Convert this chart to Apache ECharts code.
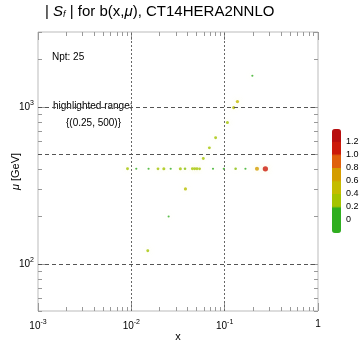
<!DOCTYPE html>
<html>
<head>
<meta charset="utf-8">
<script src="https://cdn.jsdelivr.net/npm/echarts@6/dist/echarts.min.js"></script>
<style>
  html, body { margin: 0; padding: 0; background: #fff; }
  #main { width: 360px; height: 344px; }
</style>
</head>
<body>
<div id="main"></div>
<script>
// points: x, mu [GeV], |Sf|
const xs = [0.198, 0.137, 0.125, 0.107, 0.080, 0.0686, 0.059,
  0.0091, 0.0113, 0.0153, 0.0193, 0.0223, 0.0264, 0.0335, 0.0376, 0.0451, 0.0477,
  0.0505, 0.0539, 0.075, 0.098, 0.131, 0.167, 0.222, 0.273,
  0.038, 0.0251, 0.0150];
const mus = [1578, 1080, 990, 795, 636, 548, 469,
  403, 403, 403, 403, 403, 403, 403, 403, 403, 403,
  403, 403, 403, 403, 403, 403, 403, 403,
  300, 200, 121];
const sf = [0.05, 0.45, 0.4, 0.35, 0.3, 0.3, 0.3,
  0.3, 0.05, 0.05, 0.25, 0.35, 0.05, 0.35, 0.2, 0.3, 0.3,
  0.3, 0.25, 0.05, 0.1, 0.2, 0.05, 0.7, 1.1,
  0.4, 0.05, 0.3];

const xGrid = [0.01, 0.1];
const yGrid = [100, 1000];
const highlightMu = 500;

const xMajor = [0.001, 0.01, 0.1, 1];
const yMajor = [100, 1000];
const xMinor = [];
[0.001, 0.01, 0.1].forEach(d => { for (let k = 2; k <= 9; k++) xMinor.push(k * d); });
const yMinor = [];
[10, 100, 1000].forEach(d => { for (let k = 2; k <= 9; k++) { const v = k * d; if (v >= 50 && v <= 3000) yMinor.push(v); } });

// color bar bands, -0.2 .. 1.4 in steps of 0.2
const bandColors = ['#2fae1f', '#2fae1f', '#a4c400', '#c4bc00', '#d49c00', '#e0600c', '#cc1a0a', '#b80e0e'];
const stepped = [];
bandColors.forEach(c => { for (let i = 0; i < 20; i++) stepped.push(c); });

const data = xs.map((x, i) => [x, mus[i], sf[i]]);

function expLabel(v) {
  const e = Math.round(Math.log10(v));
  if (e === 0) return '1';
  return '{b|10}{s|' + e + '}';
}
const supRich = {
  b: { fontSize: 10, color: '#000', fontFamily: 'Liberation Sans' },
  s: { fontSize: 7, color: '#000', fontFamily: 'Liberation Sans', padding: [0, 0, 7, 0] }
};

const tickAxis = (pos, vals, len, type) => ({
  type: 'log', logBase: 10, gridIndex: 0, position: pos,
  min: type === 'x' ? 0.001 : 50, max: type === 'x' ? 1 : 3000,
  axisLine: { show: false },
  axisLabel: { show: false },
  axisTick: { show: true, inside: true, length: len, customValues: vals, lineStyle: { color: '#999' } },
  splitLine: { show: false }
});

const myChart = echarts.init(document.getElementById('main'));
myChart.setOption({
  animation: false,
  title: {
    text: '| {i|S}{sub|f} | for b(x,{i|μ}), CT14HERA2NNLO',
    left: 45, top: 4, padding: 0,
    textStyle: {
      fontSize: 15, fontWeight: 'normal', color: '#000', fontFamily: 'Liberation Sans',
      rich: {
        i: { fontSize: 15, fontStyle: 'italic', fontFamily: 'Liberation Sans' },
        sub: { fontSize: 9, fontStyle: 'italic', fontFamily: 'Liberation Sans', padding: [6, 0, 0, 0] }
      }
    }
  },
  graphic: [
    { type: 'text', left: 52, top: 52, style: { text: 'Npt: 25', fontSize: 10, fontFamily: 'Liberation Sans', fill: '#000' } },
    { type: 'text', left: 53, top: 101, style: { text: 'highlighted range:', fontSize: 10, fontFamily: 'Liberation Sans', fill: '#000' } },
    { type: 'text', left: 66, top: 118, style: { text: '{(0.25, 500)}', fontSize: 10, fontFamily: 'Liberation Sans', fill: '#000' } }
  ],
  grid: [
    { left: 38, right: 42, top: 32, bottom: 33, show: true, borderColor: '#bbb', borderWidth: 1, outerBoundsMode: 'none', containLabel: false },
    { left: 332, top: 129, width: 9, height: 104, show: false, outerBoundsMode: 'none', containLabel: false }
  ],
  visualMap: {
    type: 'continuous', seriesIndex: 0, dimension: 2,
    min: -0.2, max: 1.4, calculable: false, text: null, showLabel: false,
    left: 332, top: 129, itemWidth: 9, itemHeight: 104, padding: 0,
    inRange: { color: stepped }
  },
  xAxis: [
    {
      type: 'log', logBase: 10, gridIndex: 0, min: 0.001, max: 1, position: 'bottom',
      name: 'x', nameLocation: 'middle', nameGap: 20, nameMoveOverlap: false,
      nameTextStyle: { fontSize: 11, color: '#000', fontFamily: 'Liberation Sans' },
      axisLine: { show: false },
      axisTick: { show: true, inside: true, length: 8, customValues: xMajor, lineStyle: { color: '#999' } },
      axisLabel: { customValues: xMajor, formatter: expLabel, rich: supRich, margin: 8, fontSize: 10, color: '#000' },
      splitLine: { show: false }
    },
    tickAxis('bottom', xMinor, 4, 'x'),
    tickAxis('top', xMajor, 8, 'x'),
    tickAxis('top', xMinor, 4, 'x'),
    { type: 'value', gridIndex: 1, show: false }
  ],
  yAxis: [
    {
      type: 'log', logBase: 10, gridIndex: 0, min: 50, max: 3000, position: 'left',
      name: '{i|μ} [GeV]', nameLocation: 'middle', nameGap: 17, nameMoveOverlap: false,
      nameTextStyle: { fontSize: 11, color: '#000', fontFamily: 'Liberation Sans', rich: { i: { fontSize: 11, fontStyle: 'italic', fontFamily: 'Liberation Sans' } } },
      axisLine: { show: false },
      axisTick: { show: true, inside: true, length: 8, customValues: yMajor, lineStyle: { color: '#999' } },
      axisLabel: { customValues: yMajor, formatter: expLabel, rich: supRich, margin: 4, fontSize: 10, color: '#000' },
      splitLine: { show: false }
    },
    tickAxis('left', yMinor, 4, 'y'),
    tickAxis('right', yMajor, 8, 'y'),
    tickAxis('right', yMinor, 4, 'y'),
    {
      type: 'value', gridIndex: 1, position: 'right', min: -0.2, max: 1.4, interval: 0.2,
      axisLine: { show: false }, axisTick: { show: false }, splitLine: { show: false },
      axisLabel: {
        showMinLabel: false, showMaxLabel: false, margin: 5, fontSize: 9, color: '#000', fontFamily: 'Liberation Sans',
        formatter: v => Math.abs(v) < 1e-9 ? '0' : v.toFixed(1)
      }
    }
  ],
  series: [
    {
      type: 'scatter', xAxisIndex: 0, yAxisIndex: 0,
      data: data,
      symbolSize: d => 2 + d[2] * 3,
      itemStyle: { shadowBlur: 6, shadowColor: 'rgba(235,235,130,0.5)' },
      markLine: {
        silent: true, symbol: 'none', label: { show: false },
        data: [
          ...xGrid.map(v => ({ xAxis: v, lineStyle: { type: [2, 2], color: '#666', width: 1 } })),
          ...yGrid.map(v => ({ yAxis: v, lineStyle: { type: [4, 3], color: '#555', width: 1 } })),
          { yAxis: highlightMu, lineStyle: { type: [4, 3], color: '#555', width: 1 } }
        ]
      }
    },
    { type: 'scatter', xAxisIndex: 4, yAxisIndex: 4, data: [] }
  ]
});
</script>
</body>
</html>
